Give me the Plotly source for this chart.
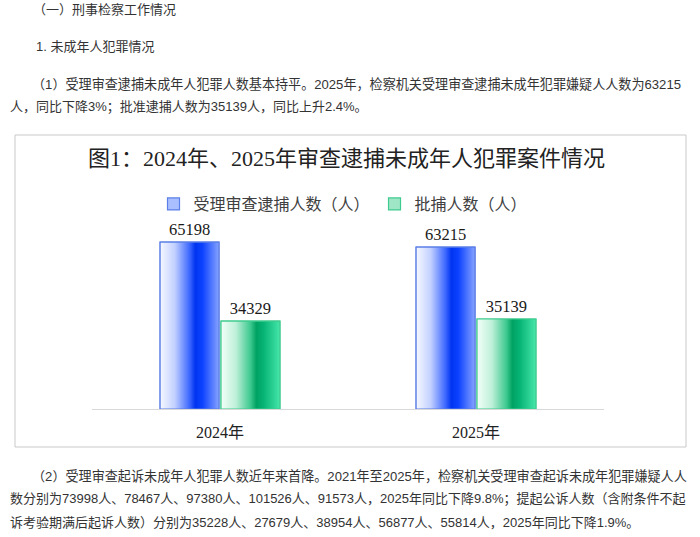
import plotly.graph_objects as go

# ---- data ----
years = ['2024年', '2025年']
accepted = [65198, 63215]      # 受理审查逮捕人数（人）
approved = [34329, 35139]      # 批捕人数（人）
series_names = ['受理审查逮捕人数（人）', '批捕人数（人）']

title_text = '图1：2024年、2025年审查逮捕未成年人犯罪案件情况'

page_lines_top = [
    ('（一）刑事检察工作情况', 31, 9, 13),
    ('1. 未成年人犯罪情况', 34, 46, 13),
    ('（1）受理审查逮捕未成年人犯罪人数基本持平。2025年，检察机关受理审查逮捕未成年犯罪嫌疑人人数为63215', 30, 84, 13.1),
    ('人，同比下降3%；批准逮捕人数为35139人，同比上升2.4%。', 8, 107, 13),
]
page_lines_bottom = [
    ('（2）受理审查起诉未成年人犯罪人数近年来首降。2021年至2025年，检察机关受理审查起诉未成年犯罪嫌疑人人', 30, 476, 13.1),
    ('数分别为73998人、78467人、97380人、101526人、91573人，2025年同比下降9.8%；提起公诉人数（含附条件不起', 8, 499, 13),
    ('诉考验期满后起诉人数）分别为35228人、27679人、38954人、56877人、55814人，2025年同比下降1.9%。', 8, 522, 13),
]

W, H = 700, 537


def px(x):
    return x / W


def py(y):
    return 1 - y / H


SERIF = 'Liberation Serif, Times New Roman, Noto Sans CJK SC, serif'
SANS = 'Liberation Sans, Arial, Noto Sans CJK SC, sans-serif'

bar_w = 0.23
offsets = [-0.234, 0.004]
legend_fill = ['#a9bfff', '#9fe6c6']
outline = ['#5a7fe6', '#3fcb8f']
gradients = [
    [[0, '#f6f8ff'], [0.25, '#c2d0ff'], [0.5, '#3d68ff'], [0.6, '#0034f0'],
     [0.72, '#0c42ff'], [1, '#86a2ff']],
    [[0, '#f3fff9'], [0.25, '#bff0d9'], [0.5, '#3dc98f'], [0.6, '#00a262'],
     [0.72, '#06b374'], [1, '#45e6aa']],
]

fig = go.Figure()
all_series = [accepted, approved]
xs = list(range(len(years)))

for s, vals in enumerate(all_series):
    fig.add_trace(go.Bar(
        x=xs, y=vals, name=series_names[s],
        width=bar_w, offset=offsets[s],
        marker=dict(color=legend_fill[s], line=dict(color=outline[s], width=1.2)),
        text=[str(v) for v in vals], textposition='outside',
        textfont=dict(family=SERIF, size=16.5, color='#1a1a1a'),
        cliponaxis=False,
    ))

# gradient overlay on each bar, built from the same data
for s, vals in enumerate(all_series):
    for i, v in zip(xs, vals):
        x0 = i + offsets[s]
        x1 = x0 + bar_w
        fig.add_trace(go.Scatter(
            x=[x0, x1, x1, x0, x0], y=[0, 0, v, v, 0],
            mode='lines', fill='toself',
            line=dict(color=outline[s], width=1.2),
            fillgradient=dict(type='horizontal', colorscale=gradients[s]),
            showlegend=False, hoverinfo='skip',
        ))

annotations = [dict(
    text=title_text, x=px(346), y=py(159), xref='paper', yref='paper',
    xanchor='center', yanchor='middle', showarrow=False,
    font=dict(family=SERIF, size=22, color='#222222'),
)]
for txt, x, y, fs in page_lines_top + page_lines_bottom:
    annotations.append(dict(
        text=txt, x=px(x), y=py(y), xref='paper', yref='paper',
        xanchor='left', yanchor='middle', showarrow=False,
        font=dict(family=SANS, size=fs, color='#333333'),
    ))

px_per_unit = 0.002561
y_top = 75000

fig.update_layout(
    width=W, height=H,
    margin=dict(l=0, r=0, t=0, b=0),
    paper_bgcolor='white', plot_bgcolor='white',
    barmode='group',
    showlegend=True,
    legend=dict(
        orientation='h', x=px(343), y=py(204), xanchor='center', yanchor='middle',
        font=dict(family=SANS, size=16, color='#404040'),
        itemwidth=30, bgcolor='rgba(0,0,0,0)',
    ),
    xaxis=dict(
        domain=[px(92), px(604)], range=[-0.5, 1.5],
        tickvals=xs, ticktext=years, ticks='',
        tickfont=dict(family=SERIF, size=16, color='#222222'),
        ticklabelstandoff=9,
        showline=True, linecolor='#d9d9d9', linewidth=1,
        showgrid=False, zeroline=False, fixedrange=True,
    ),
    yaxis=dict(
        domain=[py(409), py(409 - y_top * px_per_unit)], range=[0, y_top],
        visible=False, showgrid=False, zeroline=False, fixedrange=True,
    ),
    annotations=annotations,
    shapes=[dict(
        type='rect', xref='paper', yref='paper',
        x0=px(15), x1=px(686), y0=py(447), y1=py(135),
        line=dict(color='#c9c9c9', width=1), layer='below',
    )],
)

fig.write_html(
    'out.html',
    config={'displayModeBar': False},
    post_script="document.body.style.margin='0';document.body.style.overflow='hidden';",
)
